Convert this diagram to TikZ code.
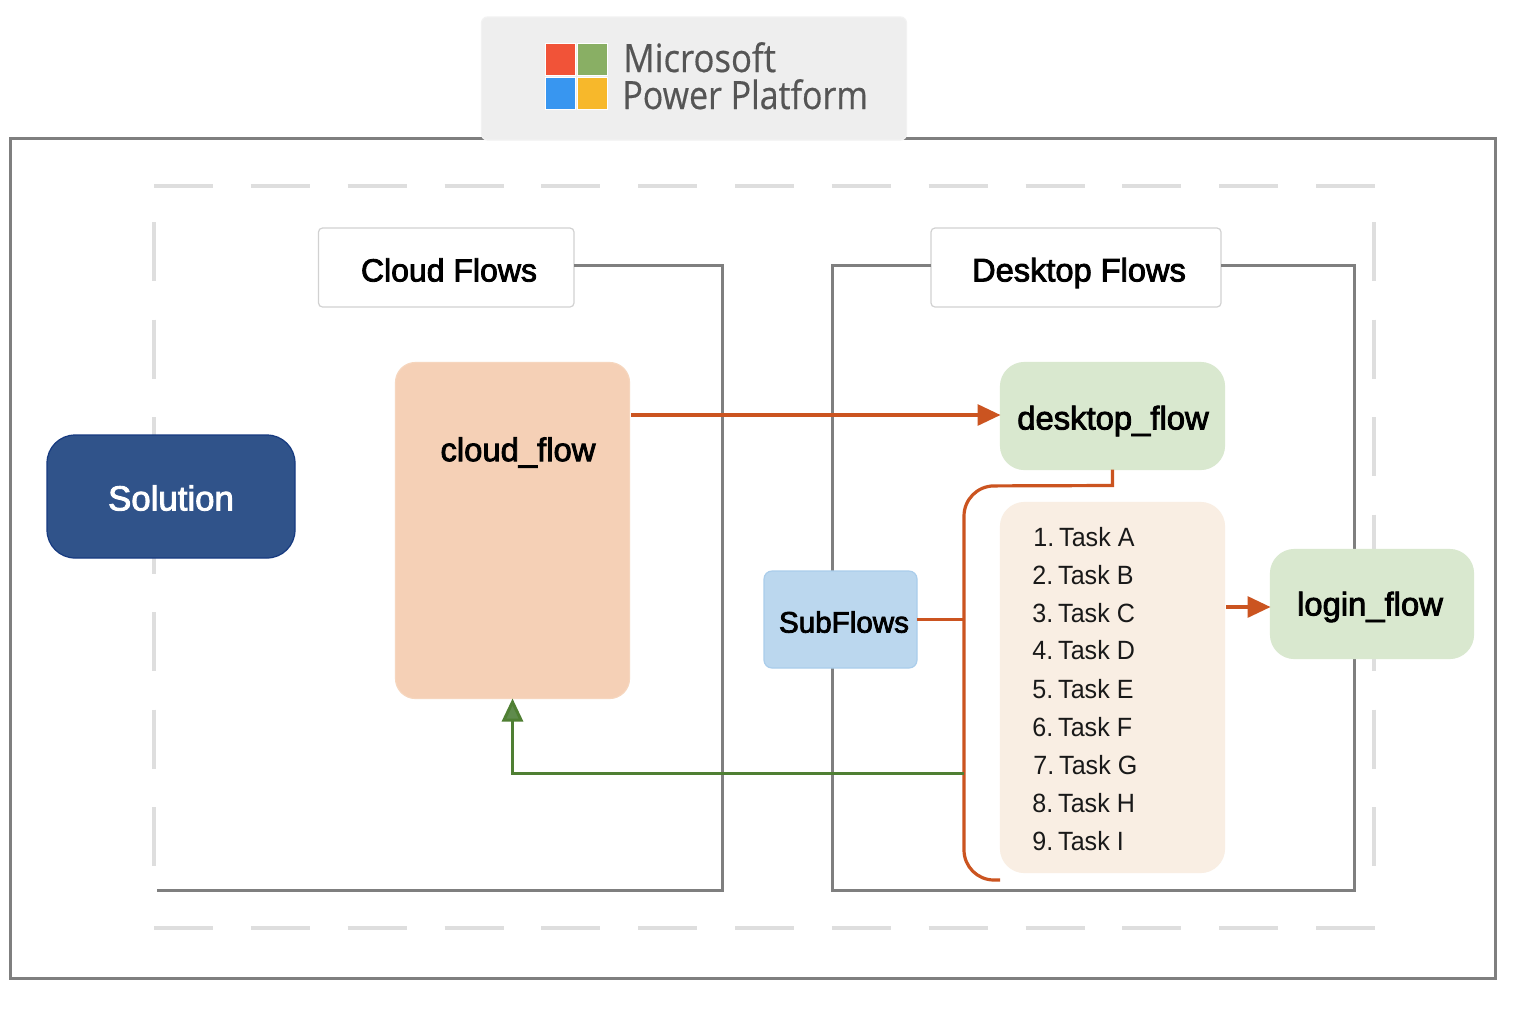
\documentclass[tikz,border=0pt]{standalone}
\usepackage{fontspec}
\usetikzlibrary{arrows.meta,calc}
\setmainfont[FakeStretch=0.95]{Liberation Sans}
\newfontfamily\logofonta[FakeStretch=0.89,FakeBold=0.4]{Open Sans}
\newfontfamily\logofontb[FakeStretch=0.87,FakeBold=0.4]{Open Sans}
\newfontfamily\labfont[FakeBold=2.6]{Liberation Sans}
\newcommand{\numgap}{\kern-2.2pt{} }
\definecolor{frameGray}{HTML}{7F7F7F}
\definecolor{dashGray}{HTML}{DEDEDE}
\definecolor{orangeLine}{HTML}{CB5420}
\definecolor{greenLine}{HTML}{4F7F33}
\definecolor{greenHead}{HTML}{5F8B4C}
\definecolor{logoText}{HTML}{555555}
\tikzset{
  x=0.5pt,y=-0.5pt,
  frameline/.style={draw=frameGray,line width=1.5pt},
  guideh/.style={draw=dashGray,line width=2pt,dash pattern=on 29.5pt off 18.92pt},
  guidev/.style={draw=dashGray,line width=2pt,dash pattern=on 29.5pt off 19.25pt},
  boxshape/.style={inner sep=0pt,outer sep=0pt,line width=0.6pt},
  capbox/.style={boxshape,draw=black!18,fill=white,rounded corners=2pt},
  labeltext/.style={inner sep=0pt,font=\labfont\fontsize{16.4}{20}\selectfont,text=black},
  tasktext/.style={inner sep=0pt,anchor=base west,font=\fontsize{13.2}{16}\selectfont,text=black!90},
  linkline/.style={draw=orangeLine,line width=1.6pt},
  headtip/.style={-{Triangle[length=11.5pt,width=10.5pt,fill=orangeLine]}},
  logosquare/.style={inner sep=0pt,outer sep=0pt,draw=white,line width=0.4pt,minimum width=15pt,minimum height=16pt},
}
\begin{document}
\begin{tikzpicture}
\useasboundingbox (0,0) rectangle (1536,1024);
\fill[white] (0,0) rectangle (1536,1024);
% outer frame
\draw[frameline] (10.5,138.5) rectangle (1495,978);
% dashed guide rectangle
\draw[guideh] (154,186) -- (1376,186);
\draw[guideh] (154,928) -- (1376,928);
\draw[guidev] (154,222) -- (154,866);
\draw[guidev] (1374,222) -- (1374,866);
% flow frames
\node[capbox,minimum width=127.75pt,minimum height=39.5pt] (cloudcap) at (446.25,267.5) {};
\node[capbox,minimum width=145pt,minimum height=39.5pt] (desktopcap) at (1076,267.5) {};
\draw[frameline] (cloudcap.east |- 0,265) -- (722.5,265) -- (722.5,890) -- (157,890);
\draw[frameline] (desktopcap.west |- 0,265) -- (832.5,265) -- (832.5,890) -- (1354.5,890) -- (1354.5,265) -- (desktopcap.east |- 0,265);
\node[labeltext,font=\labfont\fontsize{16}{20}\selectfont] (cloudcaptext) at (449,270) {Cloud Flows};
\node[labeltext,font=\labfont\fontsize{16.3}{20}\selectfont] (desktopcaptext) at (1079,273) {Desktop Flows};
% header
\node[boxshape,fill=black!6.5,draw=black!5,rounded corners=3pt,minimum width=212.5pt,minimum height=61.5pt] (header) at (694,78.5) {};
\node[logosquare,fill={rgb,255:red,241;green,83;blue,56}] (msred) at (560.5,59) {};
\node[logosquare,fill={rgb,255:red,137;green,175;blue,100}] (msgreen) at (592.5,59) {};
\node[logosquare,fill={rgb,255:red,56;green,150;blue,240}] (msblue) at (560.5,93.5) {};
\node[logosquare,fill={rgb,255:red,247;green,184;blue,43}] (msyellow) at (592.5,93.5) {};
\node[inner sep=0pt,anchor=base west,text=logoText,font=\logofonta\fontsize{19.5}{20}\selectfont] (logoa) at (623,72) {Microsoft};
\node[inner sep=0pt,anchor=base west,text=logoText,font=\logofontb\fontsize{19.5}{20}\selectfont] (logob) at (622,109) {Power Platform};
% solution
\node[boxshape,fill={rgb,255:red,48;green,83;blue,138},draw={rgb,255:red,22;green,58;blue,128},rounded corners=14pt,minimum width=124pt,minimum height=61.5pt] (solution) at (171,496.5) {};
\node[labeltext,text=white,font=\labfont\fontsize{17.4}{20}\selectfont] (solutiontext) at (171,498) {Solution};
% cloud flow
\node[boxshape,fill={rgb,255:red,245;green,208;blue,182},draw={rgb,255:red,246;green,214;blue,190},rounded corners=10pt,minimum width=117pt,minimum height=168pt] (cloud) at (512.5,530.5) {};
\node[labeltext] (cloudtext) at (518,452.5) {cloud\_flow};
% desktop flow
\node[boxshape,fill={rgb,255:red,217;green,232;blue,207},draw={rgb,255:red,217;green,232;blue,207},rounded corners=12pt,minimum width=112pt,minimum height=53.5pt] (desktop) at (1112.5,416) {};
\node[labeltext] (desktoptext) at (1113,421) {desktop\_flow};
% tasks
\node[boxshape,fill={rgb,255:red,249;green,238;blue,227},draw={rgb,255:red,249;green,238;blue,227},rounded corners=12pt,minimum width=112pt,minimum height=185pt] (tasks) at (1112.5,687.5) {};
\node[tasktext] (t1) at (1033,546) {1.\numgap Task A};
\node[tasktext] (t2) at (1032,584) {2.\numgap Task B};
\node[tasktext] (t3) at (1032,622) {3.\numgap Task C};
\node[tasktext] (t4) at (1032,659.5) {4.\numgap Task D};
\node[tasktext] (t5) at (1032,698) {5.\numgap Task E};
\node[tasktext] (t6) at (1032,736) {6.\numgap Task F};
\node[tasktext] (t7) at (1033,774) {7.\numgap Task G};
\node[tasktext] (t8) at (1032,812) {8.\numgap Task H};
\node[tasktext] (t9) at (1032,850) {9.\numgap Task I};
% login flow
\node[boxshape,fill={rgb,255:red,217;green,232;blue,207},draw={rgb,255:red,217;green,232;blue,207},rounded corners=12pt,minimum width=101.5pt,minimum height=54.5pt] (login) at (1372,604) {};
\node[labeltext] (logintext) at (1370,607) {login\_flow};
% subflows
\node[boxshape,fill={rgb,255:red,187;green,215;blue,238},draw={rgb,255:red,170;green,205;blue,235},rounded corners=4pt,minimum width=76.5pt,minimum height=48.5pt] (sub) at (840.5,619.5) {};
\node[labeltext,font=\labfont\fontsize{14.8}{20}\selectfont] (subtext) at (844,622) {SubFlows};
% connector anchors
\coordinate (trunktop) at (964,486);
\coordinate (trunkbot) at (964,880);
\coordinate (trunkend) at (1000,880);
\coordinate (greenjoin) at (964,773);
\coordinate (greenturn) at (512.5,773);
\coordinate (loginy) at (1226,607);
\coordinate (flowy) at (631,415);
% connectors
\draw[linkline,headtip] (flowy) -- (desktop.west |- flowy);
\draw[linkline] (desktop.south) -- ++(0,16) [rounded corners=15pt] -- (trunktop) -- (trunkbot) -- (trunkend);
\draw[linkline] (sub.east) -- (sub.east -| trunktop);
\draw[draw=greenLine,line width=1.5pt,-{Triangle[length=11.5pt,width=10.5pt,fill=greenHead]}] (greenjoin) -- (greenturn) -- (cloud.south);
\draw[linkline,headtip] (loginy) -- (login.west |- loginy);
\end{tikzpicture}
\end{document}
